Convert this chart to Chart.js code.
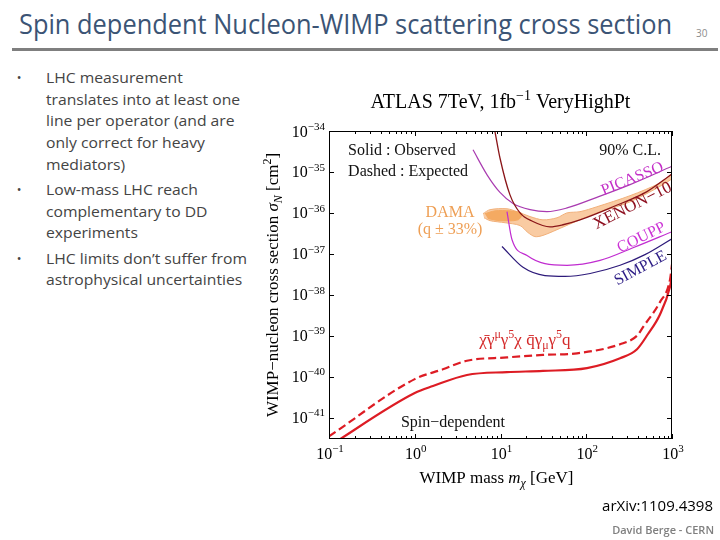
<!DOCTYPE html>
<html>
<head>
<meta charset="utf-8">
<script src="https://cdn.jsdelivr.net/npm/chart.js@4.4.1/dist/chart.umd.min.js"></script>
<style>
  html, body { margin: 0; padding: 0; background: #fff; }
  #slide { position: relative; width: 720px; height: 540px; overflow: hidden; font-family: "Open Sans", "Noto Sans", sans-serif; }
  #title { position: absolute; left: 19px; top: 10px; font-size: 27px; line-height: 27px; color: #3b5475; white-space: nowrap; transform-origin: 0 0; }
  #pagenum { position: absolute; left: 696px; top: 26px; font-size: 10px; color: #8c8c8c; }
  #rule { position: absolute; left: 12px; top: 48px; width: 706px; height: 3px; background: #7f7f7f; }
  #bullets { position: absolute; left: 46px; top: 67px; margin: 0; padding: 0; list-style: none; font-size: 15px; line-height: 21.7px; color: #444; white-space: nowrap; transform-origin: 0 0; }
  #bullets li { position: relative; margin-bottom: 3.5px; }
  #bullets li::before { content: "\2022"; position: absolute; left: -28px; font-size: 12px; }
  #chart { position: absolute; left: 262px; top: 80px; }
  #ref { position: absolute; right: 7px; top: 495px; font-size: 15px; line-height: 20px; color: #000; white-space: nowrap; }
  #author { position: absolute; right: 6px; top: 522px; font-size: 11px; line-height: 16px; color: #7f7f7f; font-weight: 600; white-space: nowrap; }
</style>
</head>
<body>
<div id="slide">
  <div id="title">Spin dependent Nucleon-WIMP scattering cross section</div>
  <div id="pagenum">30</div>
  <div id="rule"></div>
  <ul id="bullets">
    <li>LHC measurement<br>translates into at least one<br>line per operator (and are<br>only correct for heavy<br>mediators)</li>
    <li>Low-mass LHC reach<br>complementary to DD<br>experiments</li>
    <li>LHC limits don’t suffer from<br>astrophysical uncertainties</li>
  </ul>
  <canvas id="chart" width="430" height="420"></canvas>
  <div id="ref">arXiv:1109.4398</div>
  <div id="author">David Berge -  CERN</div>
</div>
<script>
// values: WIMP mass in GeV, cross section in cm^2
const massObserved = [0.1, 1.0, 1.63, 4.06, 11.9, 31.3, 102, 248, 391, 525, 724, 948, 1000];
const sigmaObserved = [2.0e-42, 3.98e-41, 5.89e-41, 1.10e-40, 1.29e-40, 1.38e-40, 1.62e-40, 2.82e-40, 4.68e-40, 1.10e-39, 3.31e-39, 1.58e-38, 2.95e-38];

const massExpected = [0.1, 1.0, 2.13, 4.06, 11.9, 31.3, 78, 248, 391, 459, 724, 948, 1000];
const sigmaExpected = [3.47e-42, 8.71e-41, 1.51e-40, 2.45e-40, 2.95e-40, 3.39e-40, 3.72e-40, 6.17e-40, 1.0e-39, 1.62e-39, 6.61e-39, 2.34e-38, 5.50e-38];

const massPicasso = [4.78, 6.97, 9.86, 14.0, 22.1, 34.8, 59.7, 133, 324, 1000];
const sigmaPicasso = [3.47e-35, 8.51e-36, 3.16e-36, 1.70e-36, 1.20e-36, 1.07e-36, 1.32e-36, 2.40e-36, 4.90e-36, 1.38e-35];

const massXenon = [8.63, 9.86, 12.9, 16.9, 23.9, 37.8, 53.6, 84.5, 205, 511, 1000];
const sigmaXenon = [9.55e-35, 2.19e-35, 2.75e-36, 1.0e-36, 6.17e-37, 4.57e-37, 5.13e-37, 6.76e-37, 1.41e-36, 3.31e-36, 8.91e-36];

const massCoupp = [11.9, 13.6, 20.4, 33.0, 59.7, 145, 351, 1000];
const sigmaCoupp = [1.07e-36, 2.24e-37, 9.12e-38, 5.75e-38, 5.25e-38, 6.92e-38, 1.41e-37, 3.47e-37];

const massSimple = [10.4, 18.3, 33.0, 56.5, 111, 248, 484, 1000];
const sigmaSimple = [1.51e-37, 4.68e-38, 2.95e-38, 2.82e-38, 3.31e-38, 5.25e-38, 9.55e-38, 2.34e-37];

// DAMA allowed region (outline, then the darker core)
const massDama = [6.25, 7.55, 11.9, 15.6, 22.1, 31.3, 45.6, 59.7, 84.5, 133, 324, 724, 1000, 1000, 324, 133, 70.0, 45.6, 31.3, 25.2, 20.9, 16.9, 11.3, 7.55, 6.43];
const sigmaDama = [9.55e-37, 1.20e-36, 1.26e-36, 1.07e-36, 8.13e-37, 6.76e-37, 7.59e-37, 1.0e-36, 1.07e-36, 1.41e-36, 2.63e-36, 5.37e-36, 8.91e-36, 6.76e-36, 1.86e-36, 1.0e-36, 5.75e-37, 3.89e-37, 2.82e-37, 2.63e-37, 3.31e-37, 4.90e-37, 5.75e-37, 6.46e-37, 7.59e-37];
const massDamaCore = [6.59, 8.63, 12.9, 17.8, 16.0, 9.86, 7.14];
const sigmaDamaCore = [9.55e-37, 1.12e-36, 1.12e-36, 9.55e-37, 6.76e-37, 6.46e-37, 7.24e-37];

const xTickPowers = [-1, 0, 1, 2, 3];
const yTickPowers = [-41, -40, -39, -38, -37, -36, -35, -34];

const SERIF = '"Liberation Serif", "DejaVu Serif", serif';

function pts(xs, ys) {
    return xs.map((m, i) => ({ x: m, y: ys[i] }));
}

function curve(xs, ys, color, width, dash) {
    return {
        data: pts(xs, ys),
        showLine: true,
        borderColor: color,
        borderWidth: width,
        borderDash: dash || [],
        pointRadius: 0,
        fill: false,
        cubicInterpolationMode: 'monotone',
        clip: 0
    };
}

function region(xs, ys, fillColor, edgeColor) {
    return {
        data: pts(xs, ys),
        showLine: true,
        borderColor: edgeColor,
        backgroundColor: fillColor,
        borderWidth: 1,
        pointRadius: 0,
        fill: 'shape',
        tension: 0.3,
        clip: 0
    };
}

// tick lists: decades from the arrays above, minor ticks 2..9 on the mass axis
const xTicks = [];
xTickPowers.forEach((p, i) => {
    const base = Math.pow(10, p);
    xTicks.push({ value: base, major: true, power: p });
    if (i < xTickPowers.length - 1) {
        for (let k = 2; k < 10; k++) xTicks.push({ value: k * base, major: false });
    }
});
const yTicks = yTickPowers.map(p => ({ value: Math.pow(10, p), major: true, power: p }));

// rich text helpers (italic, super-/subscripts)
function runFont(style, size) {
    const small = style === 'sup' || style === 'sub' || style === 'isub';
    const italic = style === 'i' || style === 'isub';
    return (italic ? 'italic ' : '') + (small ? Math.round(size * 0.68) : size) + 'px ' + SERIF;
}

function drawRuns(ctx, runs, x, y, size, align) {
    let w = 0;
    runs.forEach(([t, s]) => { ctx.font = runFont(s, size); w += ctx.measureText(t).width; });
    let cx = align === 'center' ? x - w / 2 : align === 'right' ? x - w : x;
    ctx.textAlign = 'left';
    runs.forEach(([t, s]) => {
        ctx.font = runFont(s, size);
        const dy = s === 'sup' ? -size * 0.42 : (s === 'sub' || s === 'isub') ? size * 0.24 : 0;
        ctx.fillText(t, cx, y + dy);
        cx += ctx.measureText(t).width;
    });
}

function powerRuns(p) {
    return [['10', 'n'], [String(p).replace('-', '\u2212'), 'sup']];
}

const titleRuns = [['ATLAS 7TeV, 1fb', 'n'], ['\u22121', 'sup'], [' VeryHighPt', 'n']];
const xTitleRuns = [['WIMP mass ', 'n'], ['m', 'i'], ['\u03c7', 'isub'], [' [GeV]', 'n']];
const yTitleRuns = [['WIMP\u2212nucleon cross section ', 'n'], ['\u03c3', 'i'], ['N', 'isub'], [' [cm', 'n'], ['2', 'sup'], [']', 'n']];
const operatorRuns = [['\u03c7\u0304', 'n'], ['\u03b3', 'n'], ['\u03bc', 'sup'], ['\u03b3', 'n'], ['5', 'sup'], ['\u03c7 ', 'n'],
    ['q\u0304', 'n'], ['\u03b3', 'n'], ['\u03bc', 'sub'], ['\u03b3', 'n'], ['5', 'sup'], ['q', 'n']];

// labels inside the plot, anchored in data coordinates
const notes = [
    { runs: [['Solid : Observed', 'n']], mass: 0.167, sigma: 3.6e-35, size: 16, align: 'left', color: '#111' },
    { runs: [['Dashed : Expected', 'n']], mass: 0.167, sigma: 1.07e-35, size: 16, align: 'left', color: '#111' },
    { runs: [['90% C.L.', 'n']], mass: 745, sigma: 3.6e-35, size: 16, align: 'right', color: '#111' },
    { runs: [['DAMA', 'n']], mass: 2.58, sigma: 1.07e-36, size: 16, color: '#ee9f55' },
    { runs: [['(q \u00b1 33%)', 'n']], mass: 2.58, sigma: 4.2e-37, size: 16, color: '#ee9f55' },
    { runs: [['PICASSO', 'n']], mass: 341, sigma: 7.2e-36, size: 16, angle: -22, color: '#c430c8' },
    { runs: [['XENON\u221210', 'n']], mass: 341, sigma: 1.58e-36, size: 17, angle: -27, color: '#8e1020' },
    { runs: [['COUPP', 'n']], mass: 434, sigma: 2.63e-37, size: 16, angle: -26, color: '#cc33d6' },
    { runs: [['SIMPLE', 'n']], mass: 424, sigma: 4.7e-38, size: 16, angle: -28, color: '#2b1b85' },
    { runs: operatorRuns, mass: 19.3, sigma: 8.1e-40, size: 17, color: '#d42a2a' },
    { runs: [['Spin\u2212dependent', 'n']], mass: 2.79, sigma: 7.9e-42, size: 16, color: '#111' }
];

const plotDecor = {
    id: 'plotDecor',
    afterDatasetsDraw(chart) {
        const { ctx, chartArea: a, scales: { x, y } } = chart;
        ctx.save();
        ctx.textBaseline = 'alphabetic';

        notes.forEach(n => {
            ctx.save();
            ctx.translate(x.getPixelForValue(n.mass), y.getPixelForValue(n.sigma));
            ctx.rotate((n.angle || 0) * Math.PI / 180);
            ctx.fillStyle = n.color;
            drawRuns(ctx, n.runs, 0, n.size * 0.34, n.size, n.align || 'center');
            ctx.restore();
        });

        // frame with inward ticks on all four sides
        ctx.strokeStyle = '#000';
        ctx.lineWidth = 1;
        ctx.strokeRect(a.left + 0.5, a.top + 0.5, a.width - 1, a.height - 1);
        ctx.beginPath();
        x.ticks.forEach(t => {
            const px = Math.round(x.getPixelForValue(t.value)) + 0.5;
            const len = t.major ? 5 : 3;
            ctx.moveTo(px, a.bottom); ctx.lineTo(px, a.bottom - len);
            ctx.moveTo(px, a.top); ctx.lineTo(px, a.top + len);
        });
        y.ticks.forEach(t => {
            const py = Math.round(y.getPixelForValue(t.value)) + 0.5;
            ctx.moveTo(a.left, py); ctx.lineTo(a.left + 5, py);
            ctx.moveTo(a.right, py); ctx.lineTo(a.right - 5, py);
        });
        ctx.stroke();

        ctx.fillStyle = '#000';
        x.ticks.filter(t => t.major).forEach(t => {
            drawRuns(ctx, powerRuns(t.power), x.getPixelForValue(t.value) + 1, a.bottom + 20, 16, 'center');
        });
        y.ticks.forEach(t => {
            drawRuns(ctx, powerRuns(t.power), a.left - 4, y.getPixelForValue(t.value) + 5.5, 16, 'right');
        });

        drawRuns(ctx, xTitleRuns, (a.left + a.right) / 2 - 4, a.bottom + 44, 17, 'center');
        ctx.save();
        ctx.translate(a.left - 51, (a.top + a.bottom) / 2);
        ctx.rotate(-Math.PI / 2);
        drawRuns(ctx, yTitleRuns, 0, 0, 17, 'center');
        ctx.restore();

        drawRuns(ctx, titleRuns, (a.left + a.right) / 2, a.top - 23, 20, 'center');
        ctx.restore();
    }
};

new Chart(document.getElementById('chart'), {
    type: 'scatter',
    data: {
        datasets: [
            curve(massObserved, sigmaObserved, '#dd1c24', 2.2),
            curve(massExpected, sigmaExpected, '#dd1c24', 2.2, [8, 4]),
            curve(massSimple, sigmaSimple, '#2d1a7a', 1.2),
            curve(massCoupp, sigmaCoupp, '#c02cd0', 1.2),
            curve(massXenon, sigmaXenon, '#8a1518', 1.3),
            curve(massPicasso, sigmaPicasso, '#a93bb0', 1.2),
            region(massDamaCore, sigmaDamaCore, '#f4aa62', '#f4aa62'),
            region(massDama, sigmaDama, '#f9cba2', '#f1b07a')
        ]
    },
    options: {
        responsive: false,
        animation: false,
        layout: { padding: { top: 51, right: 20, bottom: 0, left: 0 } },
        plugins: { legend: { display: false }, tooltip: { enabled: false } },
        scales: {
            x: {
                type: 'logarithmic',
                min: 0.1,
                max: 1000,
                ticks: { display: false },
                grid: { display: false },
                border: { display: false },
                afterBuildTicks: s => { s.ticks = xTicks.slice(); },
                afterFit: s => { s.height = 61; }
            },
            y: {
                type: 'logarithmic',
                min: 3.16e-42,
                max: 1e-34,
                ticks: { display: false },
                grid: { display: false },
                border: { display: false },
                afterBuildTicks: s => { s.ticks = yTicks.slice(); },
                afterFit: s => { s.width = 67; }
            }
        }
    },
    plugins: [plotDecor]
});

// squeeze the sans text to the widths of the original slide
function fitWidth(el, target) {
    el.style.transform = 'none';
    const w = el.getBoundingClientRect().width;
    el.style.transform = 'scaleX(' + (target / w) + ')';
}
function fitAll() {
    fitWidth(document.getElementById('title'), 653);
    fitWidth(document.getElementById('bullets'), 201);
}
fitAll();
document.fonts.ready.then(fitAll);
</script>
</body>
</html>
